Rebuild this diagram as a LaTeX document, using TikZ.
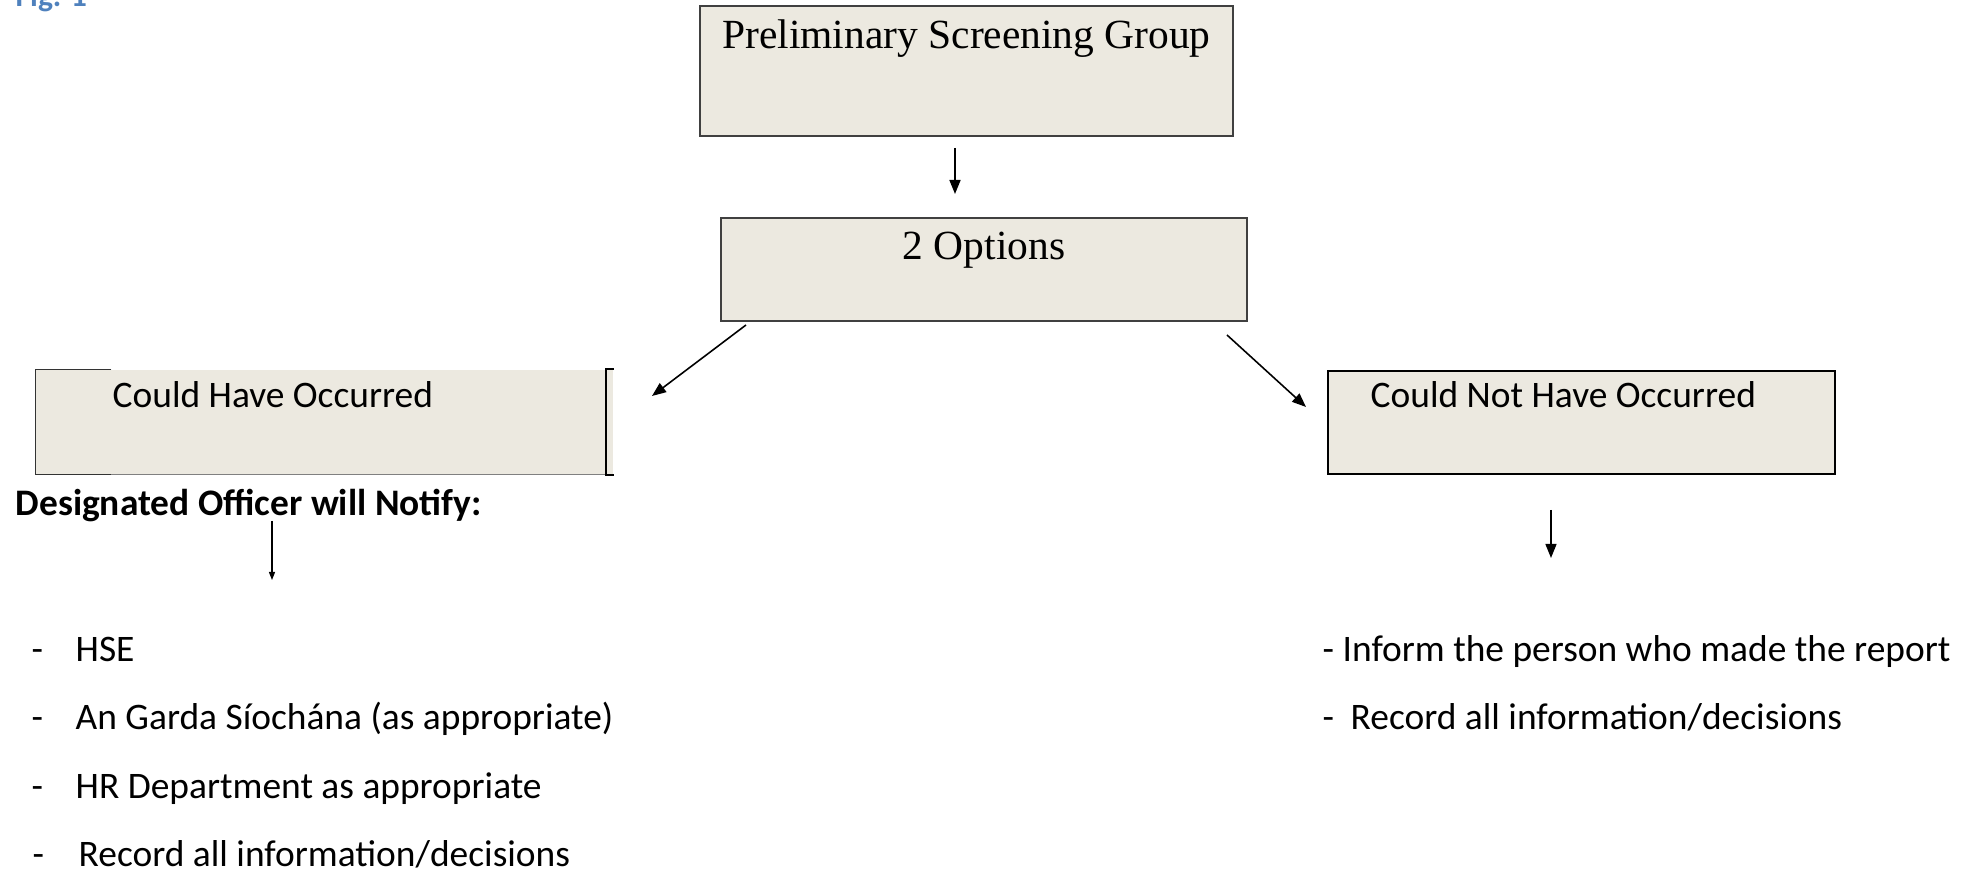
\documentclass[tikz,border=0pt]{standalone}
\usepackage{fontspec}
\setmainfont{Carlito}
\newfontfamily\palfont{Liberation Serif}
\usepackage{tikz}
\usetikzlibrary{arrows.meta}
\definecolor{boxfill}{RGB}{236,233,224}
\definecolor{figblue}{RGB}{79,129,189}
\tikzset{
  box/.style={fill=boxfill, inner sep=0pt},
  serif/.style={font=\palfont\fontsize{11.8}{14}\selectfont, inner sep=0pt, anchor=base},
  cal/.style={font=\fontsize{10.65}{12.8}\selectfont, inner sep=0pt, anchor=base west},
  arr/.style={line width=0.45pt, -{Triangle[length=0.14cm,width=0.11cm]}},
  smallarr/.style={line width=0.35pt, -{Triangle[length=0.08cm,width=0.06cm]}}
}

\begin{document}
\begin{tikzpicture}
\useasboundingbox (0,0) rectangle (19.73,-8.73);
% caption, cut off by the page edge
\node[cal, font=\bfseries\fontsize{9}{11}\selectfont, text=figblue] (fig) at (0.15,-0.07) {Fig. 1};

% the two top boxes
\node[box, draw=black!75, line width=0.4pt, minimum width=5.33cm, minimum height=1.30cm] (psg) at (9.665,-0.71) {};
\node[serif] (psgtxt) at ([yshift=-0.43cm]psg.north) {Preliminary Screening Group};
\node[box, draw=black!75, line width=0.4pt, minimum width=5.26cm, minimum height=1.03cm] (opt) at (9.84,-2.695) {};
\node[serif] (opttxt) at ([yshift=-0.42cm]opt.north) {2 Options};

% left box, only partly framed
\node[box, minimum width=5.77cm, minimum height=1.04cm] (have) at (3.245,-4.22) {};
\draw[black!80, line width=0.4pt] ([xshift=0.76cm]have.north west) -- (have.north west) -- (have.south west) -- ([xshift=0.76cm]have.south west);
\draw[gray, line width=0.4pt] ([xshift=0.76cm]have.south west) -- ([xshift=-0.08cm]have.south east);
\draw[black, line width=0.5pt] (have.north east) -- ++(-0.08,0) |- (have.south east);
\node[cal] (havetxt) at (1.12,-4.08) {Could Have Occurred};

% right box
\node[box, draw=black, line width=0.6pt, minimum width=5.07cm, minimum height=1.03cm] (nothave) at (15.815,-4.225) {};
\node[cal] (nothavetxt) at (13.70,-4.08) {Could Not Have Occurred};

%\draw[red] (0,0) grid (19.73,-8.73);
\coordinate (a1s) at (9.55,-1.48);
\coordinate (a1e) at (9.55,-1.94);
\coordinate (a2s) at (7.46,-3.25);
\coordinate (a2e) at (6.52,-3.96);
\coordinate (a3s) at (12.27,-3.35);
\coordinate (a3e) at (13.06,-4.07);
\coordinate (a4s) at (2.72,-5.21);
\coordinate (a4e) at (2.72,-5.80);
\coordinate (a5s) at (15.51,-5.10);
\coordinate (a5e) at (15.51,-5.58);
\draw[arr] (a1s) -- (a1e);
\draw[arr] (a2s) -- (a2e);
\draw[arr] (a3s) -- (a3e);
\draw[smallarr] (a4s) -- (a4e);
\draw[arr, line width=0.4pt] (a5s) -- (a5e);

% left column
\node[cal, font=\bfseries\fontsize{10.65}{12.8}\selectfont] (notify) at (0.15,-5.16) {Designated Officer will Notify:};
\node[cal] (hse) at (0.31,-6.62) {\makebox[0.44cm][l]{-}HSE};
\node[cal] (garda) at (0.31,-7.30) {\makebox[0.44cm][l]{-}An Garda Síochána (as appropriate)};
\node[cal] (hr) at (0.31,-7.99) {\makebox[0.44cm][l]{-}HR Department as appropriate};
\node[cal] (recl) at (0.32,-8.67) {\makebox[0.46cm][l]{-}Record all information/decisions};

% right column
\node[cal] (inform) at (13.22,-6.62) {- Inform the person who made the report};
\node[cal] (recr) at (13.22,-7.30) {\makebox[0.28cm][l]{-}Record all information/decisions};
\end{tikzpicture}
\end{document}
